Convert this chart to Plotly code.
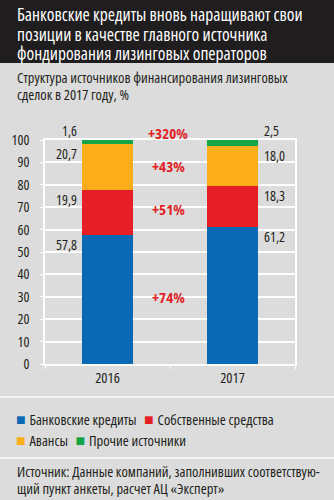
import plotly.graph_objects as go

# Data
years = ["2016", "2017"]
series_names = ["Банковские кредиты", "Собственные средства", "Авансы", "Прочие источники"]
bank_loans = [57.8, 61.2]
own_funds = [19.9, 18.3]
advances = [20.7, 18.0]
other = [1.6, 2.5]
growth_labels = ["+74%", "+51%", "+43%", "+320%"]
y_ticks = [0, 10, 20, 30, 40, 50, 60, 70, 80, 90, 100]

title_lines = ["Банковские кредиты вновь наращивают свои",
               "позиции в качестве главного источника",
               "фондирования лизинговых операторов"]
subtitle_lines = ["Структура источников финансирования лизинговых",
                  "сделок в 2017 году, %"]
source_lines = ["Источник: Данные компаний, заполнивших соответствую-",
                "щий пункт анкеты, расчет АЦ «Эксперт»"]

colors = ["#0a69b5", "#e61f27", "#fbae19", "#14a548"]
BG = "#dcdcdc"
FONT = "Open Sans, sans-serif"
TEXT = "#231f20"


def cond(s, stretch=75):
    """Wrap text so it is set in a condensed width of the variable font."""
    return f'<span style="font-stretch:{stretch}%">{s}</span>'


series = [bank_loans, own_funds, advances, other]

fig = go.Figure()
for name, vals, col in zip(series_names, series, colors):
    fig.add_trace(go.Bar(x=years, y=vals, name=name, marker=dict(color=col, line=dict(width=0)),
                         showlegend=False, hoverinfo="skip"))

# Value labels: left of the 2016 bar, right of the 2017 bar (x given as category index)
for i in range(len(years)):
    cum = 0
    for k, vals in enumerate(series):
        cum += vals[i]
        txt = f"{vals[i]:.1f}".replace(".", ",")
        top = k == len(series) - 1
        fig.add_annotation(
            x=i, y=100 if top else cum, xref="x", yref="y",
            text=cond(txt, 87.5), showarrow=False, borderpad=0,
            xanchor="right" if i == 0 else "left",
            xshift=-30 if i == 0 else 30,
            yshift=10 if top else -10,
            font=dict(family=FONT, size=14, color=TEXT),
        )

# Growth labels between the bars
cum0 = cum1 = 0
for k, vals in enumerate(series):
    mid = ((cum0 + vals[0] / 2) + (cum1 + vals[1] / 2)) / 2
    cum0 += vals[0]
    cum1 += vals[1]
    top = k == len(series) - 1
    fig.add_annotation(
        x=0.5, y=100 if top else mid, xref="x", yref="y",
        text=cond(f"<b>{growth_labels[k]}</b>", 85), showarrow=False, borderpad=0,
        yshift=7 if top else 0, xshift=-2,
        font=dict(family=FONT, size=15, color="#e31e26"),
    )


def py(px):
    # pixel row -> paper y (plot area spans rows 140..364)
    return (364 - px) / 224


def pxx(px):
    # pixel column -> paper x (plot area spans columns 35..295)
    return (px - 35) / 260


# Header block
fig.add_shape(type="rect", xref="paper", yref="paper", x0=-1, x1=2, y0=py(63), y1=py(-5),
              fillcolor="#1f1d1e", line=dict(width=0), layer="below")

for j, line in enumerate(title_lines):
    fig.add_annotation(x=pxx(5), y=py(14 + 19.5 * j), xref="paper", yref="paper", text=cond(line),
                       showarrow=False, xanchor="left", yanchor="middle", borderpad=0,
                       font=dict(family=FONT, size=17.5, color="white"))
for j, line in enumerate(subtitle_lines):
    fig.add_annotation(x=pxx(5), y=py(77 + 18 * j), xref="paper", yref="paper", text=cond(line),
                       showarrow=False, xanchor="left", yanchor="middle", borderpad=0,
                       font=dict(family=FONT, size=14.5, color=TEXT))
for j, line in enumerate(source_lines):
    fig.add_annotation(x=pxx(5), y=py(471 + 17 * j), xref="paper", yref="paper", text=cond(line),
                       showarrow=False, xanchor="left", yanchor="middle", borderpad=0,
                       font=dict(family=FONT, size=14.5, color=TEXT))


# Legend rows
def key(c, n):
    return f'<span style="color:{c};font-size:16px">■</span> ' + cond(n)


legend_rows = [key(colors[0], series_names[0]) + "  " + key(colors[1], series_names[1]),
               key(colors[2], series_names[2]) + "  " + key(colors[3], series_names[3])]
for j, row in enumerate(legend_rows):
    fig.add_annotation(x=pxx(4), y=py(419 + 21 * j), xref="paper", yref="paper", text=row,
                       showarrow=False, xanchor="left", yanchor="middle", borderpad=0,
                       font=dict(family=FONT, size=14.5, color=TEXT))

# Separator lines
for yy in (397, 458):
    fig.add_shape(type="line", xref="paper", yref="paper", x0=-1, x1=2, y0=py(yy), y1=py(yy),
                  line=dict(color="#f4f4f4", width=2))

fig.update_layout(
    width=334, height=500, barmode="stack", bargap=0.59,
    margin=dict(l=35, r=39, t=140, b=136),
    paper_bgcolor=BG, plot_bgcolor=BG,
    font=dict(family=FONT, color=TEXT),
)
fig.update_xaxes(type="category", range=[-0.5, 1.5], showgrid=False, showline=True, mirror=True,
                 linecolor="white", linewidth=1.5, ticks="outside", tickson="boundaries", ticklen=3,
                 tickcolor="white", tickvals=years, ticktext=[cond(y, 87.5) for y in years],
                 tickangle=0, tickfont=dict(family=FONT, size=14.5, color=TEXT), fixedrange=True)
fig.update_yaxes(range=[0, 100], tickvals=y_ticks, ticktext=[cond(str(v), 87.5) for v in y_ticks],
                 showgrid=True, gridcolor="white", gridwidth=1.5,
                 showline=True, mirror=True, linecolor="white", linewidth=1.5, zeroline=False,
                 ticks="outside", ticklen=3, tickcolor="white", ticklabelstandoff=8,
                 tickfont=dict(family=FONT, size=14, color=TEXT), fixedrange=True)

fig.write_html("out.html")
